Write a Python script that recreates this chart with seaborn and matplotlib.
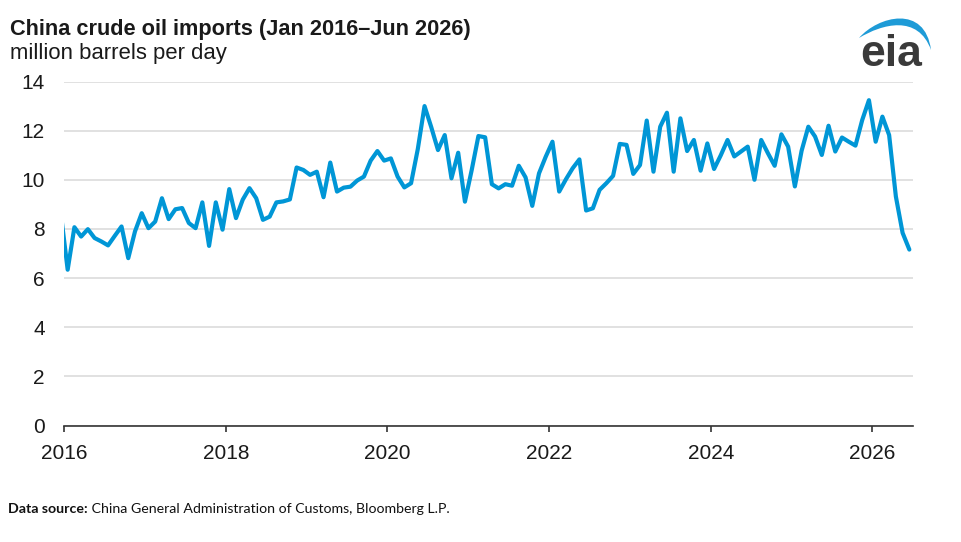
import matplotlib
matplotlib.use("Agg")
import numpy as np
import pandas as pd
import matplotlib.pyplot as plt
import seaborn as sns
from matplotlib.path import Path
from matplotlib.patches import PathPatch

# ---------------- data (million barrels per day) ----------------
title = "China crude oil imports (Jan 2016\u2013Jun 2026)"
subtitle = "million barrels per day"
source_bold = "Data source:"
source_text = " China General Administration of Customs, Bloomberg L.P."

first_month = "2015-12-01"          # Dec 2015 only shows as the segment entering the axis
lead_in_value = [8.6]               # Dec 2015
imports_mbd = [                      # Jan 2016 ... Jun 2026
    6.34, 8.07, 7.69, 7.99, 7.63, 7.49, 7.33, 7.72, 8.10, 6.81, 7.90, 8.64,      # 2016
    8.03, 8.30, 9.25, 8.40, 8.80, 8.85, 8.24, 8.03, 9.08, 7.31, 9.08, 7.97,      # 2017
    9.62, 8.44, 9.19, 9.66, 9.25, 8.37, 8.50, 9.08, 9.12, 9.20, 10.50, 10.40,    # 2018
    10.20, 10.33, 9.29, 10.70, 9.52, 9.68, 9.72, 9.97, 10.13, 10.78, 11.17, 10.78,  # 2019
    10.87, 10.13, 9.69, 9.86, 11.25, 13.00, 12.14, 11.21, 11.82, 10.06, 11.10, 9.11,  # 2020
    10.39, 11.78, 11.73, 9.82, 9.65, 9.82, 9.76, 10.57, 10.10, 8.94, 10.26, 10.94,  # 2021
    11.55, 9.52, 10.02, 10.47, 10.83, 8.75, 8.84, 9.59, 9.86, 10.16, 11.46, 11.42,  # 2022
    10.24, 10.60, 12.41, 10.33, 12.16, 12.73, 10.33, 12.50, 11.17, 11.62, 10.37, 11.48,  # 2023
    10.44, 11.00, 11.62, 10.95, 11.15, 11.35, 10.00, 11.62, 11.08, 10.57, 11.85, 11.35,  # 2024
    9.73, 11.18, 12.16, 11.76, 11.01, 12.20, 11.15, 11.72, 11.55, 11.39, 12.43, 13.24,  # 2025
    11.55, 12.57, 11.82, 9.32, 7.84, 7.16,                                         # 2026
]
y_ticks = [0, 2, 4, 6, 8, 10, 12, 14]
x_ticks = [2016, 2018, 2020, 2022, 2024, 2026]

values = lead_in_value + imports_mbd
months = pd.date_range(first_month, periods=len(values), freq="MS")
df = pd.DataFrame({
    "date": months,
    # plotted at mid-month on a decimal-year axis
    "year": months.year + (months.month - 1 + 0.5) / 12.0,
    "mbd": values,
})

# ---------------- style ----------------
W, H = 961, 542
sns.set_theme(style="white")
plt.rcParams["font.family"] = ["Liberation Sans", "DejaVu Sans"]
LINE = "#0096D6"
TXT = "#1a1a1a"

fig = plt.figure(figsize=(W / 100, H / 100), dpi=100)
fig.patch.set_facecolor("white")

def fx(px):
    return px / W

def fy(py):
    return 1 - py / H

ax_l, ax_r, ax_t, ax_b = 64.3, 912.7, 81.5, 425.5
ax = fig.add_axes([fx(ax_l), fy(ax_b), (ax_r - ax_l) / W, (ax_b - ax_t) / H])

sns.lineplot(data=df, x="year", y="mbd", ax=ax, color=LINE, linewidth=3.0,
             solid_joinstyle="round", solid_capstyle="round", legend=False)

ax.set_xlim(2016, 2026.5)
ax.set_ylim(0, 14)
ax.set_xticks(x_ticks)
ax.set_xticklabels([str(t) for t in x_ticks])
ax.set_yticks(y_ticks)
ax.set_yticklabels([str(t) for t in y_ticks])
ax.set_xlabel("")
ax.set_ylabel("")

ax.grid(axis="y", color="#d9d9d9", linewidth=1.1)
ax.grid(axis="x", visible=False)
ax.set_axisbelow(True)
for s in ["left", "right", "top"]:
    ax.spines[s].set_visible(False)
ax.spines["bottom"].set_color("#333333")
ax.spines["bottom"].set_linewidth(1.2)
ax.spines["bottom"].set_zorder(3)

ax.tick_params(axis="x", which="major", direction="out", length=4, width=1.2,
               color="#333333", pad=9, labelsize=15, labelcolor=TXT, bottom=True)
ax.tick_params(axis="y", length=0, pad=14, labelsize=15, labelcolor=TXT)

# ---------------- titles ----------------
fig.text(fx(10), fy(35), title, fontsize=15.7, fontweight="bold", color=TXT,
         ha="left", va="baseline")
fig.text(fx(10), fy(59), subtitle, fontsize=15.9, color=TXT,
         ha="left", va="baseline")

# ---------------- source note ----------------
src_family = ["Lato", "DejaVu Sans"]
t1 = fig.text(fx(8), fy(513), source_bold, fontsize=10.2, fontweight="bold",
              color="#111111", family=src_family, ha="left", va="baseline")
renderer = fig.canvas.get_renderer()
bb = t1.get_window_extent(renderer=renderer)
fig.text(bb.x1 / W, fy(513), source_text, fontsize=10.2, color="#111111",
         family=src_family, ha="left", va="baseline")

# ---------------- eia logo ----------------
fig.text(fx(891), fy(66), "eia", fontsize=32, fontweight="bold", color="#3a3a3a",
         ha="center", va="baseline")
pts_px = [
    (859, 38), (878, 16), (925, 4), (931, 50),
    (918, 14), (882, 24), (859, 38),
]
verts = [(fx(x), fy(y)) for x, y in pts_px]
codes = [Path.MOVETO, Path.CURVE4, Path.CURVE4, Path.CURVE4,
         Path.CURVE4, Path.CURVE4, Path.CURVE4]
swoosh = PathPatch(Path(verts, codes), facecolor="#1e9bd7", edgecolor="none",
                   transform=fig.transFigure)
fig.patches.append(swoosh)

fig.savefig("out.png", dpi=100, facecolor="white")
